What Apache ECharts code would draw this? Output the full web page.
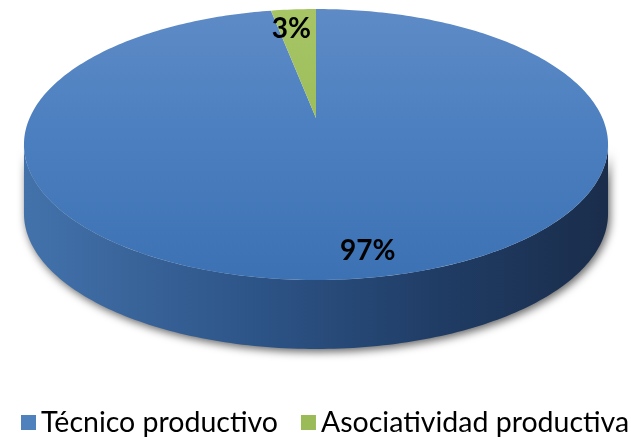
<!DOCTYPE html>
<html>
<head>
<meta charset="utf-8">
<script src="https://cdn.jsdelivr.net/npm/echarts@6/dist/echarts.min.js"></script>
<style>html,body{margin:0;padding:0;background:#fff}#c{width:631px;height:437px}</style>
</head>
<body>
<div id="c"></div>
<script>
const categories = ['Técnico productivo', 'Asociatividad productiva'];
const values = [97, 3];

// styles
const legendColors = ['#4f81bd', '#9bbb59'];
const topStops = [
  [{offset: 0, color: '#5e8bc6'}, {offset: 0.5, color: '#4a7ebf'}, {offset: 1, color: '#3c71b3'}],
  [{offset: 0, color: '#a7c564'}, {offset: 0.5, color: '#9bbb59'}, {offset: 1, color: '#8aab48'}]
];
const sideStops = [
  [{offset: 0, color: '#4372ab'}, {offset: 0.4, color: '#2d5487'}, {offset: 0.7, color: '#203d66'}, {offset: 1, color: '#1a2d4b'}],
  [{offset: 0, color: '#8aab48'}, {offset: 1, color: '#4f6428'}]
];
const labelPlace = [{f: 0.855, dx: 24}, {f: 0.797, dx: -6}];
// perspective view of the disc: centre cx/cy, half-axes A/B, perspective k, extrusion depth
const geo = {cx: 316, cy: 118, A: 286.4, B: 130.3, k: -0.1956, depth: 69, top: 9, bottom: 280, halfW: 292};
const FONT = 'Lato';

const total = values.reduce((a, b) => a + b, 0);

function pt(t, f, dy) {
  const u = Math.sin(t) * f, v = -Math.cos(t) * f;
  const d = 1 + geo.k * v;
  return [geo.cx + geo.A * u / d, geo.cy + geo.B * v / d + (dy || 0)];
}
function arc(a, b, dy) {
  const pts = [];
  const n = Math.max(2, Math.ceil((b - a) / (Math.PI * 2) * 360));
  for (let k = 0; k <= n; k++) pts.push(pt(a + (b - a) * k / n, 1, dy));
  return pts;
}

function makeRender(i) {
  return function (params, api) {
    const v = api.value(0);
    let start = 0;
    for (let j = 0; j < i; j++) start += values[j];
    const a = start / total * Math.PI * 2;
    const b = (start + v) / total * Math.PI * 2;
    const children = [];
    // side (front rim), between the silhouette tangent points
    const t0 = Math.acos(geo.k);
    const s = Math.max(a, t0), e = Math.min(b, Math.PI * 2 - t0);
    if (e > s) {
      const pts = arc(s, e, 0).concat(arc(s, e, geo.depth).reverse());
      children.push({
        type: 'polygon', z2: 1,
        shape: {points: pts},
        style: {
          fill: {type: 'linear', x: geo.cx - geo.halfW, y: 0, x2: geo.cx + geo.halfW, y2: 0, global: true, colorStops: sideStops[i]},
          shadowBlur: 8, shadowColor: 'rgba(0,0,0,0.6)', shadowOffsetX: 2, shadowOffsetY: 3
        }
      });
    }
    // top face
    const tpts = [[geo.cx, geo.cy]].concat(arc(a, b, 0));
    children.push({
      type: 'polygon', z2: 10,
      shape: {points: tpts},
      style: {
        fill: {type: 'linear', x: 0, y: geo.top, x2: 0, y2: geo.bottom, global: true, colorStops: topStops[i]},
        stroke: null
      }
    });
    // label
    const m = (a + b) / 2;
    const lp = labelPlace[i];
    const p = pt(m, lp.f, 0);
    children.push({
      type: 'text', z2: 20,
      x: p[0] + lp.dx,
      y: p[1],
      style: {
        text: Math.round(v / total * 100) + '%',
        fontSize: 28, fontWeight: 'bold', fontFamily: FONT,
        fill: '#000', align: 'center', verticalAlign: 'middle'
      }
    });
    return {type: 'group', children: children};
  };
}

const chart = echarts.init(document.getElementById('c'), null, {renderer: 'canvas'});
chart.setOption({
  animation: false,
  legend: {
    data: categories,
    left: 16, top: 403, width: 900,
    icon: 'rect', itemWidth: 15, itemHeight: 15, itemGap: 23,
    textStyle: {fontSize: 28.5, color: '#000', fontFamily: FONT}
  },
  series: categories.map((name, i) => ({
    type: 'custom',
    name: name,
    coordinateSystem: 'none',
    itemStyle: {color: legendColors[i]},
    data: [[values[i]]],
    renderItem: makeRender(i)
  }))
});
</script>
</body>
</html>
